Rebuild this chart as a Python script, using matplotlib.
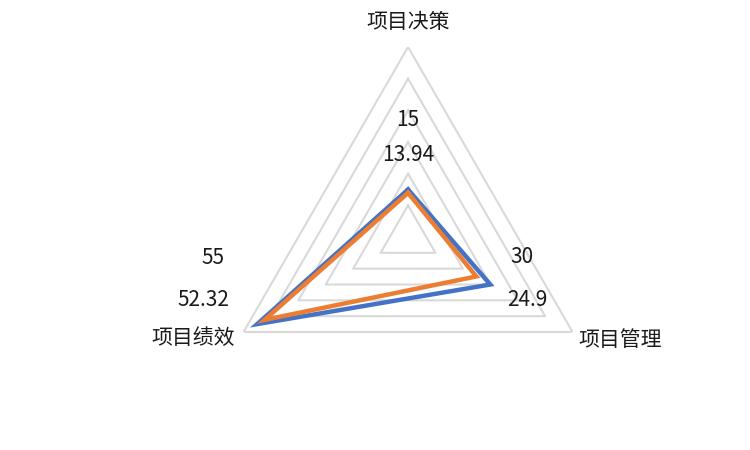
import numpy as np
import matplotlib
matplotlib.use('Agg')
from matplotlib import pyplot as plt

plt.rcParams['font.family'] = ['Noto Sans CJK SC', 'DejaVu Sans']

categories = ['项目决策', '项目管理', '项目绩效']
blueVals = [15, 30, 55]
orangeVals = [13.94, 24.9, 52.32]
gridLevels = [10, 20, 30, 40, 50, 60]

# angles clockwise from the top
angles = np.deg2rad([0, 120, 240])
closedAngles = np.append(angles, angles[0])

fig = plt.figure(figsize=(7.5, 4.5), dpi=100)
ax = fig.add_axes([0.2907, 0.0511, 0.5067, 0.8444], projection='polar')
ax.set_theta_offset(np.pi / 2)
ax.set_theta_direction(-1)
ax.set_ylim(0, 60)
ax.grid(False)
ax.spines['polar'].set_visible(False)
ax.set_xticks([])
ax.set_yticks([])
ax.patch.set_alpha(0)

# triangular grid
for lvl in gridLevels:
    ax.plot(closedAngles, [lvl] * 4, color='#d9d9d9', lw=1.5, zorder=1)

ax.plot(closedAngles, blueVals + blueVals[:1], color='#4472C4', lw=3.2,
        solid_joinstyle='miter', zorder=3)
ax.plot(closedAngles, orangeVals + orangeVals[:1], color='#ED7D31', lw=3.2,
        solid_joinstyle='miter', zorder=4)

# category labels (theta deg, r)
catPos = [(0, 68), (115.9, 74.4), (244.8, 75)]
for name, (th, r) in zip(categories, catPos):
    ax.text(np.deg2rad(th), r, name, ha='center', va='center', fontsize=15,
            color='#1a1a1a', clip_on=False)

# data labels, placed like the excel ones
bluePos = [(0, 37), (100, 36.5), (264, 62)]
orangePos = [(0, 25.9), (117.9, 42.5), (253, 67.7)]
for v, (th, r) in zip(blueVals, bluePos):
    ax.text(np.deg2rad(th), r, f'{v:g}', ha='center', va='center', fontsize=15,
            color='#1a1a1a', clip_on=False)
for v, (th, r) in zip(orangeVals, orangePos):
    ax.text(np.deg2rad(th), r, f'{v:g}', ha='center', va='center', fontsize=15,
            color='#1a1a1a', clip_on=False)

fig.savefig('out.png', dpi=100)
